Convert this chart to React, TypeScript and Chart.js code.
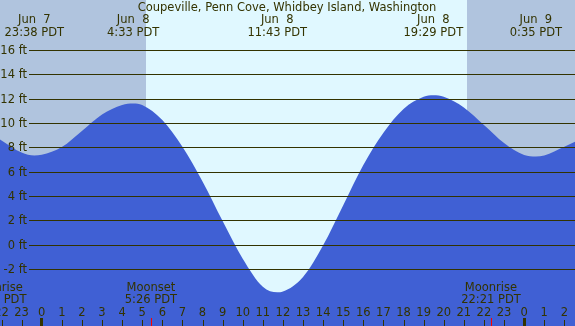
import { useEffect, useRef } from "react";
import { Chart, registerables } from "chart.js";

Chart.register(...registerables);

const TITLE = "Coupeville, Penn Cove, Whidbey Island, Washington";

// hours relative to Jun 8 00:00 PDT
const tideHours = [
  -2.075, -1, -0.367, 0, 1, 2, 3, 4, 4.55, 5, 6, 7, 8, 9, 10, 11, 11.717, 12, 13, 14,
  15, 16, 17, 18, 19, 19.483, 20, 21, 22, 23, 24, 24.583, 25, 26, 26.53,
];
const tideHeights = [
  8.7, 7.62, 7.38, 7.44, 8.08, 9.4, 10.75, 11.53, 11.66, 11.53, 10.3, 8.1, 5.25, 2.0, -1.1, -3.4, -3.86, -3.8, -2.6, 0.0,
  3.3, 6.6, 9.25, 11.2, 12.2, 12.33, 12.2, 11.32, 9.88, 8.4, 7.42, 7.3, 7.38, 8.1, 8.5,
];

const yTickValues = [16, 14, 12, 10, 8, 6, 4, 2, 0, -2];
const yTickLabels = ["16 ft", "14 ft", "12 ft", "10 ft", "8 ft", "6 ft", "4 ft", "2 ft", "0 ft", "-2 ft"];

const hourTicks = [-2, -1, 0, 1, 2, 3, 4, 5, 6, 7, 8, 9, 10, 11, 12, 13, 14, 15, 16, 17, 18, 19, 20, 21, 22, 23, 24, 25, 26];
const hourLabels = ["22", "23", "0", "1", "2", "3", "4", "5", "6", "7", "8", "9", "10", "11", "12", "13", "14", "15", "16", "17", "18", "19", "20", "21", "22", "23", "0", "1", "2"];

const extremeHours = [-0.367, 4.55, 11.717, 19.483, 24.583];
const extremeDates = ["Jun  7", "Jun  8", "Jun  8", "Jun  8", "Jun  9"];
const extremeTimes = ["23:38 PDT", "4:33 PDT", "11:43 PDT", "19:29 PDT", "0:35 PDT"];

const moonHours = [-2.24, 5.433, 22.35];
const moonLabels = ["Moonrise", "Moonset", "Moonrise"];
const moonTimes = ["21:46 PDT", "5:26 PDT", "22:21 PDT"];

const sunriseHour = 5.19;
const sunsetHour = 21.16;

const X_MIN = -2.075;
const X_MAX = 26.53;
const Y_MIN = -6.631;
const Y_MAX = 20.156;

const NIGHT = "#b0c4de";
const DAY = "#e0f8ff";
const WATER = "#4060d4";
const INK = "#333300";
const FONT = "11.5px 'DejaVu Sans'";

export default function App() {
  const ref = useRef<HTMLCanvasElement | null>(null);

  useEffect(() => {
    document.body.style.margin = "0";
    const canvas = ref.current;
    if (!canvas) return;

    const decor = {
      id: "tideDecor",
      beforeDatasetsDraw(chart: any) {
        const { ctx, scales, width, height } = chart;
        const xs = scales.x;
        ctx.save();
        ctx.fillStyle = NIGHT;
        ctx.fillRect(0, 0, width, height);
        const a = Math.round(xs.getPixelForValue(sunriseHour));
        const b = Math.round(xs.getPixelForValue(sunsetHour));
        ctx.fillStyle = DAY;
        ctx.fillRect(a, 0, b - a, height);
        ctx.restore();
      },
      afterDatasetsDraw(chart: any) {
        const { ctx, scales, width } = chart;
        const xs = scales.x;
        const ys = scales.y;
        ctx.save();
        ctx.font = FONT;
        ctx.fillStyle = INK;
        ctx.textBaseline = "alphabetic";
        // grid lines + y labels
        yTickValues.forEach((v, i) => {
          const p = ys.getPixelForValue(v);
          const row = Math.floor(p);
          ctx.fillStyle = INK;
          ctx.fillRect(29, row, width - 29, 1);
          ctx.textAlign = "right";
          ctx.fillText(yTickLabels[i], 27, p + 3.5);
        });
        // title
        ctx.textAlign = "center";
        ctx.fillText(TITLE, 287, 11);
        // extremes labels
        extremeHours.forEach((h, i) => {
          const x = xs.getPixelForValue(h);
          ctx.fillText(extremeDates[i], x, 23);
          ctx.fillText(extremeTimes[i], x, 36);
        });
        // moon labels
        moonHours.forEach((h, i) => {
          const x = xs.getPixelForValue(h);
          ctx.fillText(moonLabels[i], x, 291);
          ctx.fillText(moonTimes[i], x, 303);
        });
        // hour ticks + labels
        hourTicks.forEach((h, i) => {
          const p = xs.getPixelForValue(h);
          ctx.fillStyle = INK;
          if (((h % 24) + 24) % 24 === 0) {
            ctx.fillRect(Math.floor(p) - 1, 318, 3, 8);
          } else {
            ctx.fillRect(Math.round(p), 320, 1, 6);
          }
          ctx.fillText(hourLabels[i], p, 316);
        });
        // moon event ticks
        ctx.fillStyle = "#ff0000";
        moonHours.forEach((h) => {
          const p = xs.getPixelForValue(h);
          ctx.fillRect(Math.round(p), 318, 1, 8);
        });
        ctx.restore();
      },
    };

    const chart = new Chart(canvas, {
      type: "line",
      data: {
        datasets: [
          {
            data: tideHours.map((h, i) => ({ x: h, y: tideHeights[i] })),
            backgroundColor: WATER,
            borderColor: "transparent",
            borderWidth: 0,
            fill: "start",
            pointRadius: 0,
            cubicInterpolationMode: "monotone",
          },
        ],
      },
      options: {
        responsive: false,
        devicePixelRatio: 1,
        animation: false,
        layout: { padding: 0 },
        plugins: { legend: { display: false }, tooltip: { enabled: false }, title: { display: false } },
        scales: {
          x: { type: "linear", min: X_MIN, max: X_MAX, display: false },
          y: { type: "linear", min: Y_MIN, max: Y_MAX, display: false },
        },
      },
      plugins: [decor],
    } as any);

    return () => chart.destroy();
  }, []);

  return <canvas ref={ref} width={575} height={326} style={{ display: "block", width: 575, height: 326 }} />;
}
